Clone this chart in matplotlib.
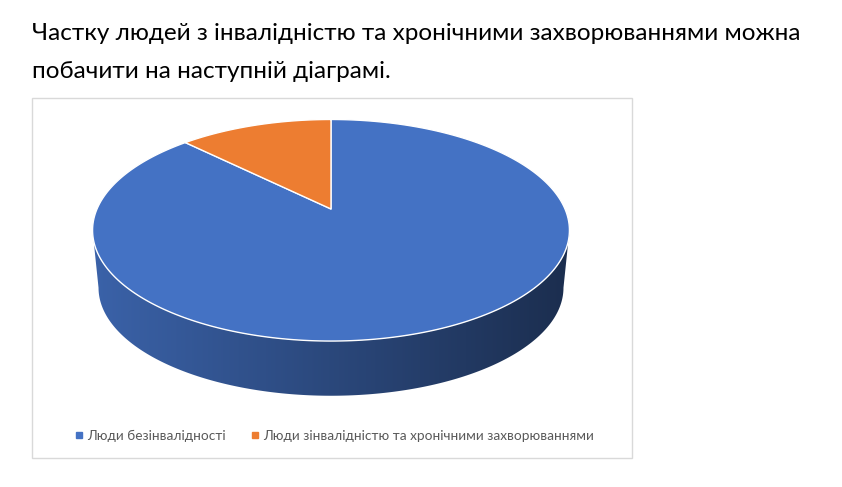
import numpy as np
import matplotlib
matplotlib.use("Agg")
import matplotlib.pyplot as plt
from matplotlib.patches import Polygon, Rectangle
from matplotlib.lines import Line2D
from matplotlib.colors import to_rgb

# --- data ---
labels = ["Люди безінвалідності", "Люди зінвалідністю та хронічними захворюваннями"]
values = [87.5, 12.5]
colors = ["#4472C4", "#ED7D31"]
title_lines = ["Частку людей з інвалідністю та хронічними захворюваннями можна",
               "побачити на наступній діаграмі."]

# --- 3D pie geometry (pixels) ---
X0, Y0 = 331.0, 209.0      # projected centre of top face
A, B, K = 106.7, 234.0, 0.192  # vertical, horizontal radius, perspective
DEPTH, SHRINK = 58.0, 0.975


def proj(theta, top=True):
    # theta in degrees, clockwise from 12 o'clock
    t = np.radians(theta)
    u, v = np.sin(t), np.cos(t)
    s = 1.0 if top else SHRINK
    w = 1 + K * v
    x = X0 + s * B * u / w
    y = Y0 - s * A * v / w + (0 if top else DEPTH)
    return x, y


fig = plt.figure(figsize=(8.42, 4.87), dpi=100)
ax = fig.add_axes([0, 0, 1, 1])
ax.set_xlim(0, 842)
ax.set_ylim(487, 0)
ax.axis("off")

for i, line in enumerate(title_lines):
    ax.text(32, 40 + 38 * i, line, fontsize=17.5, family="Lato",
            color="black", va="baseline", ha="left")

# chart frame
ax.add_patch(Rectangle((32, 98), 600, 360, fill=False, ec="#d9d9d9", lw=1.0))

# slice angles
fracs = np.array(values) / sum(values)
ends = np.cumsum(fracs) * 360
starts = ends - fracs * 360

# side walls (front visible part only)
vis0 = np.degrees(np.arccos(-K))
vis1 = 360 - vis0
grad = np.linspace(0.86, 0.40, 256)
for s0, s1, c in zip(starts, ends, colors):
    a0, a1 = max(s0, vis0), min(s1, vis1)
    if a0 >= a1:
        continue
    th = np.linspace(a0, a1, 200)
    xt, yt = proj(th, True)
    xb, yb = proj(th[::-1], False)
    poly = Polygon(np.column_stack([np.r_[xt, xb], np.r_[yt, yb]]),
                   closed=True, fc="none", ec="none")
    ax.add_patch(poly)
    base = np.array(to_rgb(c))
    img = (grad[:, None] * base[None, :])[None, :, :]
    xmin, xmax = np.r_[xt, xb].min(), np.r_[xt, xb].max()
    ymin, ymax = np.r_[yt, yb].min(), np.r_[yt, yb].max()
    im = ax.imshow(img, extent=(xmin, xmax, ymax, ymin), aspect="auto",
                   interpolation="bilinear", zorder=2)
    im.set_clip_path(poly)

# top faces
for s0, s1, c in zip(starts, ends, colors):
    th = np.linspace(s0, s1, 300)
    xt, yt = proj(th, True)
    pts = np.column_stack([np.r_[X0, xt], np.r_[Y0, yt]])
    ax.add_patch(Polygon(pts, closed=True, fc=c, ec="white", lw=1.0,
                         joinstyle="round", zorder=3))

# legend
handles = [Line2D([], [], marker="s", ls="", color=c, markersize=4.4) for c in colors]
fig.legend(handles, labels, loc="center", bbox_to_anchor=(333 / 842, 1 - 436 / 487),
           ncol=2, frameon=False, handletextpad=0.1, columnspacing=1.6,
           handlelength=1.0, prop={"family": "Lato", "size": 9.8},
           labelcolor="#595959")

fig.savefig("out.png", dpi=100)
